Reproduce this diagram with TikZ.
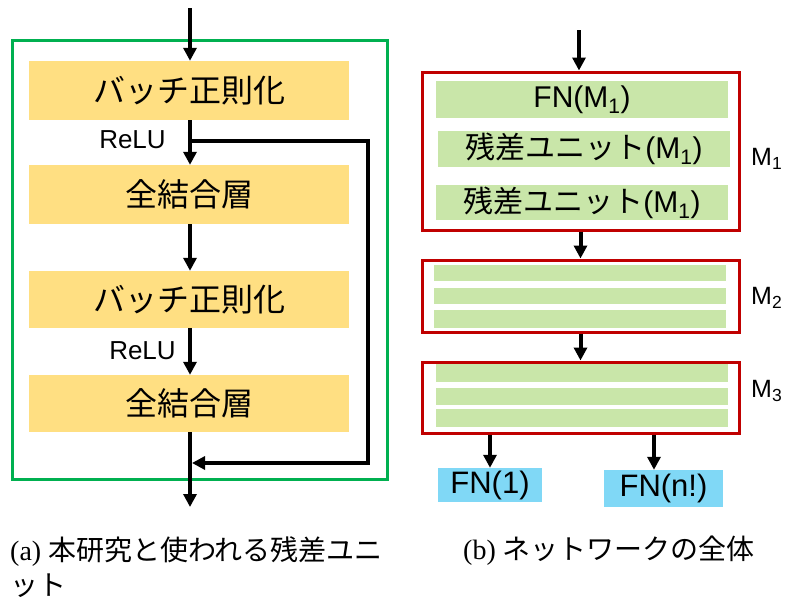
\documentclass[tikz,border=0pt]{standalone}
\usepackage{fontspec}
\setmainfont{Liberation Serif}
\newfontfamily\jp{Noto Sans CJK JP}
\newfontfamily\lsans{Liberation Sans}
\usetikzlibrary{arrows.meta}
\definecolor{ybox}{HTML}{FFDF82}
\definecolor{gbar}{HTML}{C9E6A9}
\definecolor{bbox}{HTML}{80D8F6}
\definecolor{rframe}{HTML}{C00000}
\definecolor{gframe}{HTML}{00B050}
\tikzset{
  yellowbox/.style={fill=ybox, draw=none, inner sep=0pt, minimum width=320pt, minimum height=59pt,
    font=\jp\fontsize{32}{32}\selectfont},
  greenbar/.style={fill=gbar, draw=none, inner sep=0pt, minimum width=292pt,
    font=\fontsize{30}{30}\selectfont},
  bluebox/.style={fill=bbox, draw=none, inner sep=0pt, font=\lsans\fontsize{31}{31}\selectfont},
  redframe/.style={draw=rframe, line width=3pt, inner sep=0pt, minimum width=317pt},
  arr/.style={line width=4pt, -{Triangle[width=13pt,length=13pt]}},
  skiparr/.style={line width=3.2pt, -{Triangle[width=13pt,length=13pt]}},
  relu/.style={font=\lsans\fontsize{26}{26}\selectfont, inner sep=0pt},
  mlabel/.style={font=\lsans\fontsize{25}{25}\selectfont, inner sep=0pt, anchor=west},
  caption/.style={inner sep=0pt, anchor=north west, align=left, font=\fontsize{28}{35}\selectfont},
}
\begin{document}
\begin{tikzpicture}[x=1pt,y=-1pt]
\useasboundingbox (0,0) rectangle (785,605);
% ---------------- left panel ----------------
\node[draw=gframe, line width=3pt, minimum width=375pt, minimum height=439pt, inner sep=0pt] (gf) at (199.5,259.5) {};
\node[yellowbox] (y1) at (189,90.5) {バッチ正則化};
\node[yellowbox] (y2) at (189,194.5) {全結合層};
\node[yellowbox, minimum height=57pt] (y3) at (189,299.5) {バッチ正則化};
\node[yellowbox, minimum height=57pt] (y4) at (189,403.5) {全結合層};
\coordinate (in1) at (190,8);
\coordinate (out1) at (190,507);
\draw[arr] (in1) -- (in1 |- y1.north);
\draw[arr] (in1 |- y1.south) -- (in1 |- y2.north);
\draw[arr] (in1 |- y2.south) -- (in1 |- y3.north);
\draw[arr] (in1 |- y3.south) -- (in1 |- y4.north);
\draw[arr] (in1 |- y4.south) -- (out1);
\node[relu] (r1) at (132.5,140) {ReLU};
\node[relu] (r2) at (142.5,351) {ReLU};
\coordinate (sk1) at (190,141);
\coordinate (sk2) at (368,141);
\coordinate (sk3) at (368,463);
\coordinate (sk4) at (192,463);
\draw[skiparr] (sk1) -- (sk2) -- (sk3) -- (sk4);
% ---------------- right panel ----------------
\node[redframe, minimum height=158pt] (m1) at (580.5,151) {};
\node[redframe, minimum height=72pt] (m2) at (580.5,296) {};
\node[redframe, minimum height=71pt] (m3) at (580.5,397.5) {};
\node[greenbar, minimum height=37pt] (b11) at (582,99.5) {\lsans FN(M\textsubscript{1})};
\node[greenbar, minimum height=36pt] (b12) at (584,149) {{\jp 残差ユニット}\lsans(M\textsubscript{1})};
\node[greenbar, minimum height=35pt] (b13) at (582,202.5) {{\jp 残差ユニット}\lsans(M\textsubscript{1})};
\node[greenbar, minimum height=16pt] (b21) at (580,273) {};
\node[greenbar, minimum height=16pt] (b22) at (580,296) {};
\node[greenbar, minimum height=18pt] (b23) at (580,319) {};
\node[greenbar, minimum height=18pt] (b31) at (582,373) {};
\node[greenbar, minimum height=17pt] (b32) at (582,396.5) {};
\node[greenbar, minimum height=18pt] (b33) at (582,418) {};
\node[mlabel] (l1) at (751,159) {M\textsubscript{1}};
\node[mlabel] (l2) at (751,298) {M\textsubscript{2}};
\node[mlabel] (l3) at (751,391) {M\textsubscript{3}};
\node[bluebox, minimum width=104pt, minimum height=34pt] (fn1) at (490,485) {FN(1)};
\node[bluebox, minimum width=119pt, minimum height=37pt] (fnn) at (663.5,488.5) {FN(n!)};
\coordinate (in2) at (579,30);
\draw[arr] (in2) -- (in2 |- m1.north);
\draw[arr] (m1.south) -- (m2.north);
\draw[arr] (m2.south) -- (m3.north);
\draw[arr] (m3.south -| fn1.north) -- (fn1.north);
\coordinate (fnx) at (654,0);
\draw[arr] (m3.south -| fnx) -- (fnx |- fnn.north);
% ---------------- captions ----------------
\node[caption] (capa) at (10,536) {(a) {\jp 本研究と使われる残差ユニ}\\{\jp ット}};
\node[caption] (capb) at (463,536) {(b) {\jp ネットワークの全体}};
\end{tikzpicture}
\end{document}
